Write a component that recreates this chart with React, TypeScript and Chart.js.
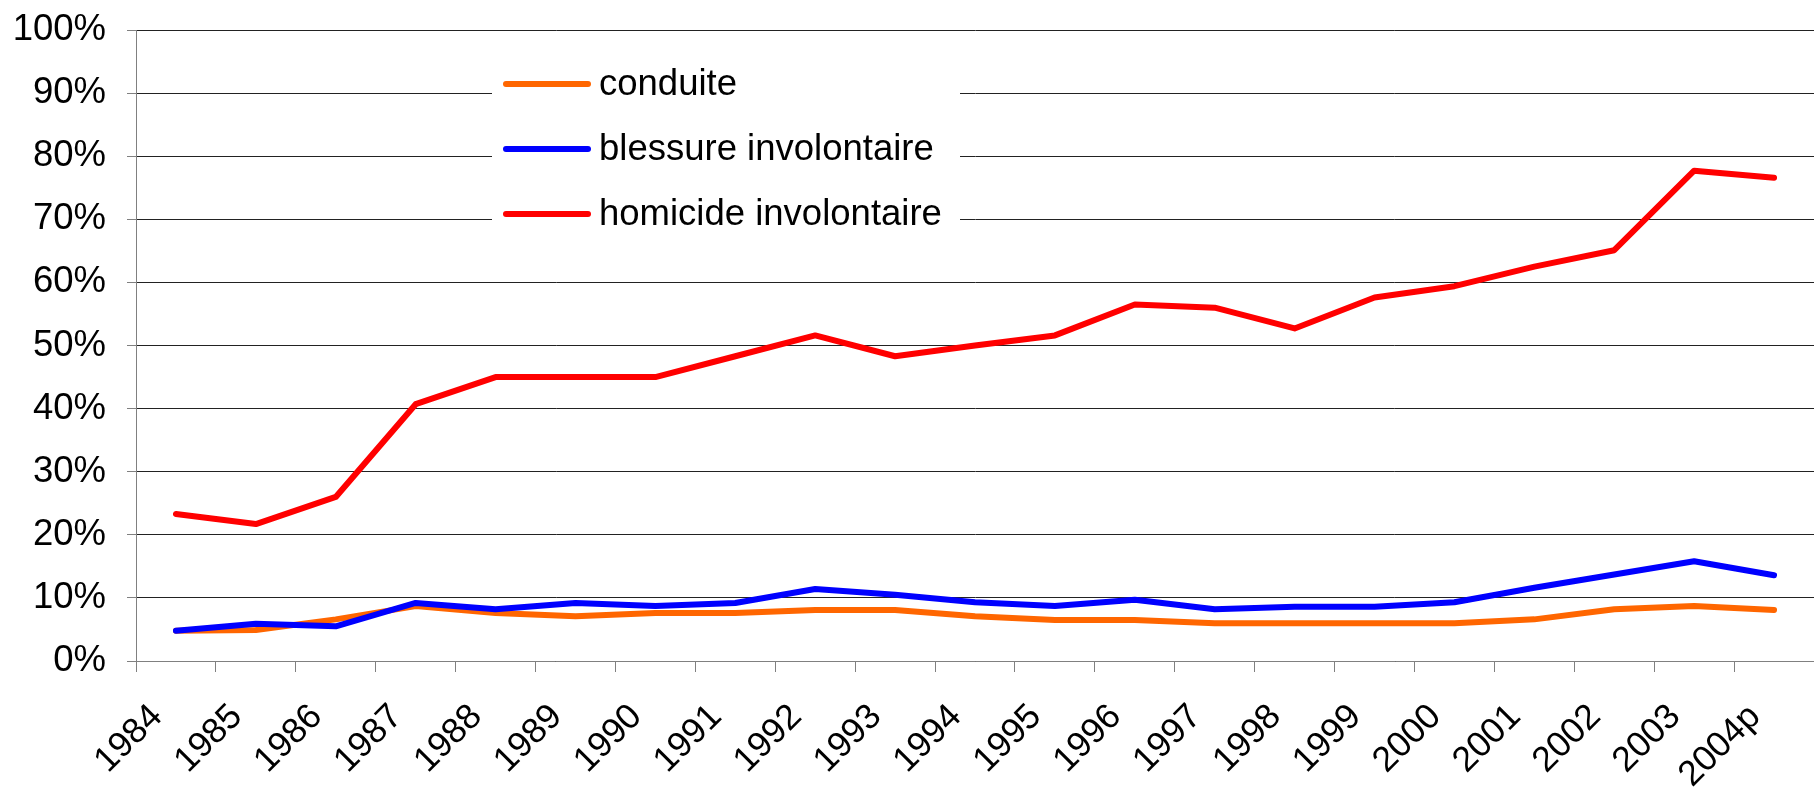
import React, { useEffect, useRef } from "react";
import { Chart, registerables } from "chart.js";

Chart.register(...registerables);

const years = ["1984","1985","1986","1987","1988","1989","1990","1991","1992","1993","1994","1995","1996","1997","1998","1999","2000","2001","2002","2003","2004p"];
const conduite = [4.8, 4.9, 6.6, 8.7, 7.6, 7.1, 7.6, 7.6, 8.1, 8.1, 7.1, 6.5, 6.5, 6.0, 6.0, 6.0, 6.0, 6.6, 8.2, 8.7, 8.1];
const blessure = [4.8, 5.9, 5.5, 9.2, 8.2, 9.2, 8.7, 9.2, 11.4, 10.5, 9.3, 8.7, 9.7, 8.2, 8.6, 8.6, 9.3, 11.6, 13.7, 15.8, 13.6];
const homicide = [23.3, 21.7, 26.0, 40.7, 45.0, 45.0, 45.0, 48.3, 51.6, 48.3, 50.0, 51.6, 56.5, 56.0, 52.7, 57.6, 59.4, 62.5, 65.1, 77.7, 76.6];
const seriesLabels = ["conduite", "blessure involontaire", "homicide involontaire"];
const seriesColors = ["#FF6600", "#0000FF", "#FF0000"];
const yTicks = [0, 10, 20, 30, 40, 50, 60, 70, 80, 90, 100];

const FONT = "'Liberation Sans', Arial, sans-serif";

const insideLegend = {
  id: "insideLegend",
  beforeDatasetsDraw(chart: any) {
    const ctx = chart.ctx;
    ctx.save();
    ctx.fillStyle = "#FFFFFF";
    ctx.fillRect(492, 48, 468, 200);
    const rows = [84, 149, 214];
    chart.data.datasets.forEach((ds: any, i: number) => {
      const y = rows[i];
      ctx.strokeStyle = ds.borderColor;
      ctx.lineWidth = 6;
      ctx.lineCap = "round";
      ctx.beginPath();
      ctx.moveTo(506, y);
      ctx.lineTo(588, y);
      ctx.stroke();
      ctx.fillStyle = "#000";
      ctx.font = `36.5px ${FONT}`;
      ctx.textBaseline = "middle";
      ctx.textAlign = "left";
      ctx.fillText(ds.label, 599, y + 1);
    });
    ctx.restore();
  },
};

export default function App() {
  const ref = useRef<HTMLCanvasElement | null>(null);
  useEffect(() => {
    document.body.style.margin = "0";
    const chart = new Chart(ref.current as HTMLCanvasElement, {
      type: "line",
      data: {
        labels: years,
        datasets: [
          { label: seriesLabels[0], data: conduite, borderColor: seriesColors[0], backgroundColor: seriesColors[0], order: 1 },
          { label: seriesLabels[1], data: blessure, borderColor: seriesColors[1], backgroundColor: seriesColors[1], order: 0 },
          { label: seriesLabels[2], data: homicide, borderColor: seriesColors[2], backgroundColor: seriesColors[2], order: 2 },
        ],
      },
      options: {
        animation: false,
        responsive: false,
        devicePixelRatio: 1,
        layout: { padding: { top: 30, right: 0, bottom: 0, left: 0 } },
        elements: {
          line: { borderWidth: 6, tension: 0, borderCapStyle: "round", borderJoinStyle: "round" },
          point: { radius: 0, hoverRadius: 0 },
        },
        plugins: { legend: { display: false }, tooltip: { enabled: false } },
        scales: {
          x: {
            type: "category",
            offset: true,
            grid: { display: true, offset: true, drawOnChartArea: false, drawTicks: true, tickLength: 11, color: "#808080" },
            border: { display: true, color: "#808080", width: 1 },
            ticks: {
              autoSkip: false,
              minRotation: 45,
              maxRotation: 45,
              padding: 24,
              labelOffset: -19,
              color: "#000",
              font: { family: FONT, size: 35.5 },
            },
            afterFit(scale: any) {
              scale.height = 135;
              scale.paddingLeft = 0;
              scale.paddingRight = 0;
              scale.paddingTop = 0;
              scale.paddingBottom = 0;
            },
          },
          y: {
            min: 0,
            max: 100,
            afterBuildTicks(scale: any) { scale.ticks = yTicks.map((v) => ({ value: v })); },
            grid: { color: "#222222", tickColor: "#808080", tickLength: 9, drawTicks: true },
            border: { display: true, color: "#808080", width: 1 },
            ticks: {
              padding: 21,
              color: "#000",
              font: { family: FONT, size: 36.5 },
              callback: (v: any) => `${v}%`,
            },
            afterFit(scale: any) {
              scale.width = 136;
              scale.paddingLeft = 0;
              scale.paddingRight = 0;
              scale.paddingTop = 0;
              scale.paddingBottom = 0;
            },
          },
        },
      },
      plugins: [insideLegend],
    } as any);
    return () => chart.destroy();
  }, []);
  return (
    <div style={{ position: "absolute", left: 0, top: 0, width: 1814, height: 796, background: "#fff" }}>
      <canvas ref={ref} width={1814} height={796} style={{ display: "block", width: 1814, height: 796 }} />
    </div>
  );
}
